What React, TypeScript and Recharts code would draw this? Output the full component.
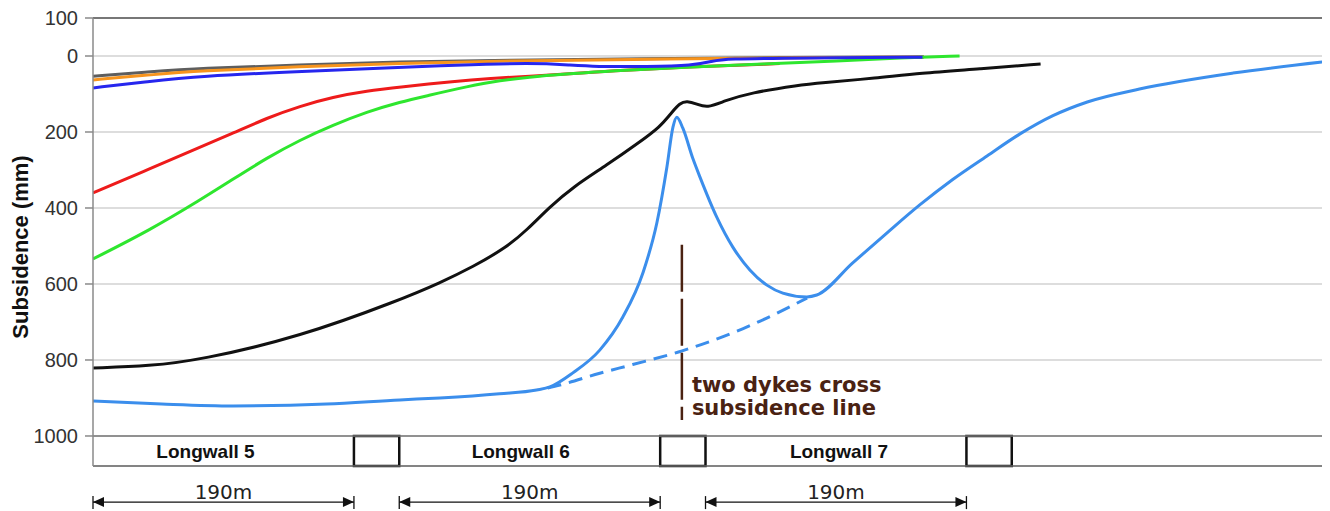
import React from "react";
import {
  LineChart,
  Line,
  XAxis,
  YAxis,
  CartesianGrid,
  ReferenceLine,
  ReferenceArea,
} from "recharts";

// distance along the subsidence line (m) and subsidence (mm)
const grayDist = [0, 40, 78, 150, 223, 300, 400, 500, 605];
const grayMm = [53, 42, 32, 24, 15, 11, 7, 4, 2];

const orangeDist = [0, 40, 78, 150, 223, 300, 400, 459, 605];
const orangeMm = [63, 50, 39, 28, 19, 13, 9, 6, 3];

const blueDist = [0, 40, 78, 150, 209, 264, 320, 348, 365, 404, 437, 451, 459, 520, 604];
const blueMm = [84, 67, 53, 41, 32, 24, 18, 24, 28, 28, 25, 14, 7, 5, 3];

const redDist = [0, 41.5, 78, 102, 126.7, 150.7, 174.7, 199.5, 223.5, 264, 289, 318, 347, 376, 432, 500];
const redMm = [360, 297, 240, 203, 163, 132, 108, 92, 82, 66, 59, 53, 47, 39, 29, 20];

const greenDist = [0, 41.5, 78, 102, 126.7, 150.7, 174.7, 199.5, 223.5, 245.3, 264.2, 289, 318, 347, 376, 432, 488, 543, 588, 631];
const greenMm = [534, 458, 379, 324, 268, 221, 182, 147, 121, 103, 87, 68, 55, 47, 39, 29, 21, 13, 5, 0];

const blackDist = [0, 41.5, 78, 150.7, 223.5, 252.6, 276.6, 301.4, 315.9, 332.7, 349.4, 374.2, 398.2, 412.8, 421.5, 427.3, 432.4, 439.7, 447, 460, 478.3, 514.7, 529, 570.7, 602, 645.7, 690];
const blackMm = [821, 816, 800, 739, 642, 597, 555, 503, 458, 397, 345, 287, 226, 187, 148, 124, 118, 126, 137, 118, 97, 76, 71, 58, 45, 34, 21];

const lwDist = [0, 50, 102, 170, 223.5, 252.6, 296, 323, 332.7, 349.4, 369, 385.8, 400.4, 410.6, 417.9, 422.3, 425.1, 429.5, 436.8, 441.9, 454.2, 465.9, 478.3, 490.7, 502.3, 519.8, 527, 553, 578, 602, 626, 651, 675, 699, 724, 762, 830, 895];
const lwMm = [908, 916, 921, 916, 905, 900, 889, 879, 871, 834, 774, 687, 571, 439, 292, 187, 161, 190, 270, 318, 424, 503, 563, 603, 624, 634, 629, 545, 466, 392, 325, 263, 205, 157, 121, 87, 45, 16];

// projected profile without the dykes
const projDist = [331, 340, 369, 393, 429, 473, 520];
const projMm = [874, 866, 835, 812, 776, 718, 637];

const yTicks = [-100, 0, 200, 400, 600, 800, 1000];

const panelNames = ["Longwall 5", "Longwall 6", "Longwall 7"];
const panelStart = [0, 223, 446];
const panelWidth = 190;
const pillarWidth = 33;
const panelLabelShift = [-18, -9, 3];

const dykeDist = 428.8;
const dykeFrom = 497;
const dykeTo = 958;
const dykeText = ["two dykes cross", "subsidence line"];

const PANEL_TOP = 1000;
const PANEL_BOTTOM = 1079;
const DIM_LEVEL = 1174;

const toPoints = (dist: number[], mm: number[]) => dist.map((x, i) => ({ x, y: mm[i] }));

const BROWN = "#4a2212";

function Dimension(props: any) {
  const { x1, x2, y1 } = props;
  const y = y1;
  return (
    <g>
      <line x1={x1} y1={y} x2={x2} y2={y} stroke="#111" strokeWidth={1.3} />
      <line x1={x1} y1={y - 6} x2={x1} y2={y + 7} stroke="#111" strokeWidth={1.3} />
      <line x1={x2} y1={y - 6} x2={x2} y2={y + 7} stroke="#111" strokeWidth={1.3} />
      <polygon points={`${x1},${y} ${x1 + 11},${y - 5} ${x1 + 11},${y + 5}`} fill="#111" />
      <polygon points={`${x2},${y} ${x2 - 11},${y - 5} ${x2 - 11},${y + 5}`} fill="#111" />
      <text
        x={(x1 + x2) / 2}
        y={y - 3}
        textAnchor="middle"
        fontFamily="DejaVu Sans, Verdana, sans-serif"
        fontSize={20}
        fill="#222"
      >
        {`${panelWidth}m`}
      </text>
    </g>
  );
}

function DykeMarker(props: any) {
  const { x1, y1, y2 } = props;
  const top = Math.min(y1, y2);
  const bottom = Math.max(y1, y2);
  return (
    <g>
      <line x1={x1} y1={top} x2={x1} y2={bottom} stroke={BROWN} strokeWidth={2.5} strokeDasharray="47 7" />
      {dykeText.map((t, i) => (
        <text
          key={t}
          x={x1 + 10}
          y={bottom - 28 + i * 23}
          fontFamily="DejaVu Sans, Verdana, sans-serif"
          fontWeight="bold"
          fontSize={21}
          fill={BROWN}
        >
          {t}
        </text>
      ))}
    </g>
  );
}

export default function App() {
  const lineProps = {
    type: "basis" as const,
    dataKey: "y",
    dot: false,
    activeDot: false,
    isAnimationActive: false,
    strokeWidth: 3,
  };

  return (
    <div style={{ marginLeft: -8, marginTop: -8, width: 1330, height: 511, background: "#fff" }}>
      <LineChart width={1330} height={511} margin={{ top: 18, right: 1, bottom: 45, left: 0 }}>
        <CartesianGrid vertical={false} stroke="#d2d2d2" strokeWidth={1.5} />
        <XAxis type="number" dataKey="x" domain={[0, 900]} hide allowDataOverflow />
        <YAxis
          type="number"
          domain={[-100, PANEL_BOTTOM]}
          reversed
          allowDataOverflow
          ticks={yTicks}
          interval={0}
          tickFormatter={(v: number) => String(Math.abs(v))}
          width={93}
          tickSize={8}
          tickMargin={7}
          axisLine={{ stroke: "#8a8a8a", strokeWidth: 1.5 }}
          tickLine={{ stroke: "#8a8a8a", strokeWidth: 1.5 }}
          tick={{ fill: "#333", fontSize: 20, fontFamily: "Liberation Sans, Arial, sans-serif" }}
          label={(p: any) => {
            const vb = p.viewBox;
            const cx = vb.x + 20;
            const cy = vb.y + 229;
            return (
              <text
                x={cx}
                y={cy}
                transform={`rotate(-90 ${cx} ${cy})`}
                textAnchor="middle"
                dominantBaseline="central"
                fontFamily="Liberation Sans, Arial, sans-serif"
                fontWeight="bold"
                fontSize={22}
                fill="#111"
              >
                Subsidence (mm)
              </text>
            );
          }}
        />

        <ReferenceLine y={-100} stroke="#555" strokeWidth={1.5} />
        <ReferenceLine y={PANEL_TOP} stroke="#777" strokeWidth={1.5} />
        <ReferenceLine y={PANEL_BOTTOM} stroke="#666" strokeWidth={1.5} />
        <ReferenceLine x={900} stroke="#777" strokeWidth={1.5} />

        {panelNames.map((name, i) => (
          <ReferenceArea
            key={name}
            x1={panelStart[i]}
            x2={panelStart[i] + panelWidth}
            y1={PANEL_TOP}
            y2={PANEL_BOTTOM}
            fill="none"
            stroke="none"
            label={(p: any) => {
              const vb = p.viewBox;
              return (
                <text
                  x={vb.x + vb.width / 2 + panelLabelShift[i]}
                  y={vb.y + vb.height / 2}
                  dy="0.36em"
                  textAnchor="middle"
                  fontFamily="Liberation Sans, Arial, sans-serif"
                  fontWeight="bold"
                  fontSize={19}
                  fill="#111"
                >
                  {name}
                </text>
              );
            }}
          />
        ))}
        {panelStart.map((s) => (
          <ReferenceArea
            key={`pillar-${s}`}
            x1={s + panelWidth}
            x2={s + panelWidth + pillarWidth}
            y1={PANEL_TOP}
            y2={PANEL_BOTTOM}
            fill="#fff"
            fillOpacity={1}
            stroke="#111"
            strokeWidth={2.5}
            ifOverflow="visible"
          />
        ))}
        {panelStart.map((s) => (
          <ReferenceLine
            key={`dim-${s}`}
            segment={[
              { x: s, y: DIM_LEVEL },
              { x: s + panelWidth, y: DIM_LEVEL },
            ]}
            ifOverflow="visible"
            shape={Dimension}
          />
        ))}

        <Line {...lineProps} data={toPoints(grayDist, grayMm)} stroke="#5e5e5e" />
        <Line {...lineProps} data={toPoints(orangeDist, orangeMm)} stroke="#f7941d" />
        <Line {...lineProps} data={toPoints(redDist, redMm)} stroke="#ee1b1b" />
        <Line {...lineProps} data={toPoints(greenDist, greenMm)} stroke="#2ee62e" />
        <Line {...lineProps} data={toPoints(blueDist, blueMm)} stroke="#2626ee" />
        <Line {...lineProps} data={toPoints(blackDist, blackMm)} stroke="#111" />
        <Line {...lineProps} type="monotone" data={toPoints(lwDist, lwMm)} stroke="#3b8eec" />
        <Line {...lineProps} type="monotone" data={toPoints(projDist, projMm)} stroke="#3b8eec" strokeDasharray="14 8" />

        <ReferenceLine
          segment={[
            { x: dykeDist, y: dykeFrom },
            { x: dykeDist, y: dykeTo },
          ]}
          ifOverflow="visible"
          shape={DykeMarker}
        />
      </LineChart>
    </div>
  );
}
